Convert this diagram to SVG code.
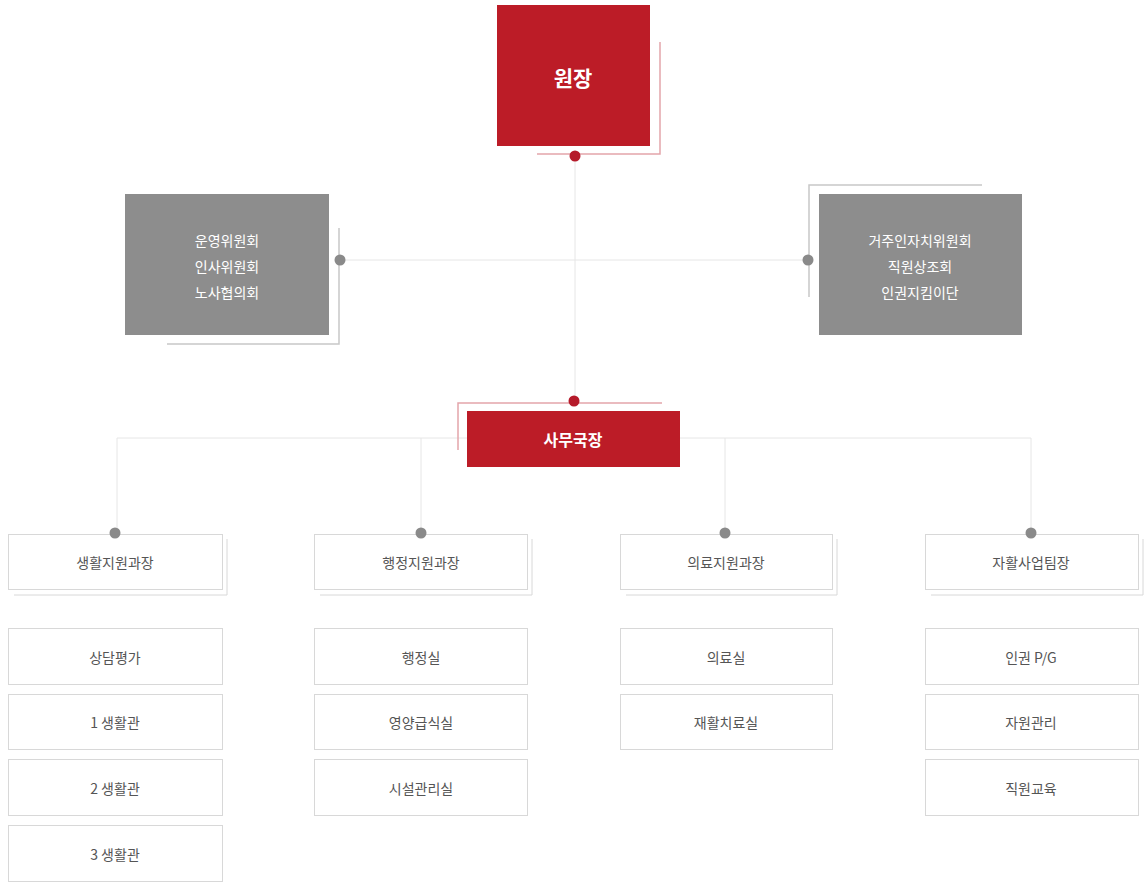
<svg xmlns="http://www.w3.org/2000/svg" width="1144" height="884" viewBox="0 0 1144 884">
<style>
text{font-family:"Noto Sans CJK KR","Noto Sans",sans-serif;text-anchor:middle;dominant-baseline:central}
.red{fill:#bc1c27}
.gray{fill:#8d8d8d}
.wt{fill:#fff;font-size:14px}
.big{fill:#fff;font-size:21px;font-weight:bold}
.mid{fill:#fff;font-size:16px;font-weight:bold}
.dark{fill:#555;font-size:14px}
.box{fill:#fff;stroke:#d8d8d8;stroke-width:1}
.shadow{fill:none;stroke:#d8d8d8;stroke-width:1}
.deco-r{fill:none;stroke:#e3a5aa;stroke-width:1.5}
.deco-g{fill:none;stroke:#c8c8c8;stroke-width:1.5}
.conn{fill:none;stroke:#e6e6e6;stroke-width:1}
.dr{fill:#b51a2a}
.dg{fill:#8a8a8a}
</style>
<rect width="1144" height="884" fill="#fff"/>
<g id="connectors">
<line class="conn" x1="575" y1="155" x2="575" y2="401"/>
<line class="conn" x1="340" y1="260" x2="808" y2="260"/>
<path class="conn" d="M117 533 V438 H1031 V533"/>
<line class="conn" x1="421" y1="438" x2="421" y2="533"/>
<line class="conn" x1="725" y1="438" x2="725" y2="533"/>
</g>
<g id="director">
<polyline class="deco-r" points="537,154 660,154 660,42"/>
<rect class="red" x="497" y="5" width="153" height="141"/>
<text class="big" x="573" y="77">원장</text>
<circle class="dr" cx="575" cy="156" r="5.5"/>
</g>
<g id="committee-left">
<polyline class="deco-g" points="167,344 339,344 339,228"/>
<rect class="gray" x="125" y="194" width="204" height="141"/>
<text class="wt" x="227" y="240">운영위원회</text>
<text class="wt" x="227" y="266">인사위원회</text>
<text class="wt" x="227" y="292">노사협의회</text>
<circle class="dg" cx="340" cy="260" r="5.5"/>
</g>
<g id="committee-right">
<polyline class="deco-g" points="982,185 809,185 809,297"/>
<rect class="gray" x="819" y="194" width="203" height="141"/>
<text class="wt" x="920" y="240">거주인자치위원회</text>
<text class="wt" x="920" y="266">직원상조회</text>
<text class="wt" x="920" y="292">인권지킴이단</text>
<circle class="dg" cx="808" cy="260" r="5.5"/>
</g>
<g id="secretary">
<polyline class="deco-r" points="662,403 458,403 458,450"/>
<rect class="red" x="467" y="411" width="213" height="56"/>
<text class="mid" x="573" y="439">사무국장</text>
<circle class="dr" cx="574" cy="401" r="5.5"/>
</g>
<g id="mgr1">
<polyline class="shadow" points="14,595 227,595 227,539"/>
<rect class="box" x="8.5" y="534.5" width="214" height="55"/>
<text class="dark" x="115" y="562">생활지원과장</text>
<circle class="dg" cx="115" cy="533" r="5.5"/>
</g>
<g id="mgr2">
<polyline class="shadow" points="320,595 532,595 532,539"/>
<rect class="box" x="314.5" y="534.5" width="213" height="55"/>
<text class="dark" x="421" y="562">행정지원과장</text>
<circle class="dg" cx="421" cy="533" r="5.5"/>
</g>
<g id="mgr3">
<polyline class="shadow" points="626,595 837,595 837,539"/>
<rect class="box" x="620.5" y="534.5" width="212" height="55"/>
<text class="dark" x="726" y="562">의료지원과장</text>
<circle class="dg" cx="725" cy="533" r="5.5"/>
</g>
<g id="mgr4">
<polyline class="shadow" points="931,595 1143,595 1143,539"/>
<rect class="box" x="925.5" y="534.5" width="213" height="55"/>
<text class="dark" x="1031" y="562">자활사업팀장</text>
<circle class="dg" cx="1031" cy="533" r="5.5"/>
</g>
<g id="sub-col1">
<rect class="box" x="8.5" y="628.5" width="214" height="56"/><text class="dark" x="115" y="657">상담평가</text>
<rect class="box" x="8.5" y="694.5" width="214" height="55"/><text class="dark" x="115" y="722">1 생활관</text>
<rect class="box" x="8.5" y="759.5" width="214" height="56"/><text class="dark" x="115" y="788">2 생활관</text>
<rect class="box" x="8.5" y="825.5" width="214" height="56"/><text class="dark" x="115" y="854">3 생활관</text>
</g>
<g id="sub-col2">
<rect class="box" x="314.5" y="628.5" width="213" height="56"/><text class="dark" x="421" y="657">행정실</text>
<rect class="box" x="314.5" y="694.5" width="213" height="55"/><text class="dark" x="421" y="722">영양급식실</text>
<rect class="box" x="314.5" y="759.5" width="213" height="56"/><text class="dark" x="421" y="788">시설관리실</text>
</g>
<g id="sub-col3">
<rect class="box" x="620.5" y="628.5" width="212" height="56"/><text class="dark" x="726" y="657">의료실</text>
<rect class="box" x="620.5" y="694.5" width="212" height="55"/><text class="dark" x="726" y="722">재활치료실</text>
</g>
<g id="sub-col4">
<rect class="box" x="925.5" y="628.5" width="213" height="56"/><text class="dark" x="1031" y="657">인권 P/G</text>
<rect class="box" x="925.5" y="694.5" width="213" height="55"/><text class="dark" x="1031" y="722">자원관리</text>
<rect class="box" x="925.5" y="759.5" width="213" height="56"/><text class="dark" x="1031" y="788">직원교육</text>
</g>
</svg>
